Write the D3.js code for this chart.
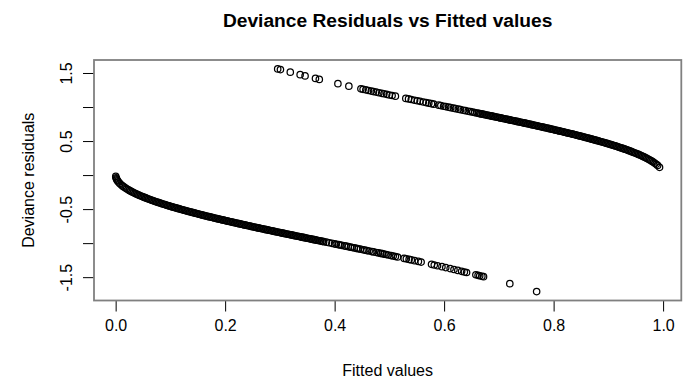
<!DOCTYPE html>
<html>
<head>
<meta charset="utf-8">
<script src="https://d3js.org/d3.v7.min.js"></script>
<style>
body { margin: 0; background: #fff; }
text { font-family: "Liberation Sans", Arial, sans-serif; }
</style>
</head>
<body>
<script>
var width = 689,
    height = 381;

// cases with y = 0 (lower band): fitted value and deviance residual
var fittedZero = [
    0.0002, 0.0008, 0.0015, 0.0025, 0.0035,
    0.0050, 0.0075, 0.0100, 0.0125, 0.0150, 0.0175, 0.0200, 0.0225, 0.0250, 0.0275,
    0.0300, 0.0325, 0.0350, 0.0375, 0.0400, 0.0425, 0.0450, 0.0475, 0.0500, 0.0525,
    0.0550, 0.0575, 0.0600, 0.0625, 0.0650, 0.0675, 0.0700, 0.0725, 0.0750, 0.0775,
    0.0800, 0.0825, 0.0850, 0.0875, 0.0900, 0.0925, 0.0950, 0.0975, 0.1000, 0.1025,
    0.1050, 0.1075, 0.1100, 0.1125, 0.1150, 0.1175, 0.1200, 0.1225, 0.1250, 0.1275,
    0.1300, 0.1325, 0.1350, 0.1375, 0.1400, 0.1425, 0.1450, 0.1475, 0.1500, 0.1525,
    0.1550, 0.1575, 0.1600, 0.1625, 0.1650, 0.1675, 0.1700, 0.1725, 0.1750, 0.1775,
    0.1800, 0.1825, 0.1850, 0.1875, 0.1900, 0.1925, 0.1950, 0.1975, 0.2000, 0.2025,
    0.2050, 0.2075, 0.2100, 0.2125, 0.2150, 0.2175, 0.2200, 0.2225, 0.2250, 0.2275,
    0.2300, 0.2325, 0.2350, 0.2375, 0.2400, 0.2425, 0.2450, 0.2475, 0.2500, 0.2525,
    0.2550, 0.2575, 0.2600, 0.2625, 0.2650, 0.2675, 0.2700, 0.2725, 0.2750, 0.2775,
    0.2800, 0.2825, 0.2850, 0.2875, 0.2900, 0.2925, 0.2950, 0.2975, 0.3000, 0.3025,
    0.3050, 0.3075, 0.3100, 0.3125, 0.3150, 0.3175, 0.3200, 0.3225, 0.3250, 0.3275,
    0.3300, 0.3325, 0.3350, 0.3375, 0.3400, 0.3425, 0.3450, 0.3475, 0.3500, 0.3525,
    0.3550, 0.3575, 0.3600, 0.3625, 0.3650, 0.3675, 0.3700, 0.3725, 0.3750, 0.3775,
    0.380, 0.385, 0.390, 0.395, 0.400,
    0.403, 0.407, 0.410, 0.413, 0.418, 0.421, 0.425, 0.429, 0.432, 0.436,
    0.440, 0.443, 0.447, 0.452, 0.455, 0.459, 0.463, 0.468, 0.471, 0.476,
    0.480, 0.484, 0.487, 0.490, 0.494, 0.498, 0.503, 0.507, 0.511, 0.515,
    0.527, 0.531, 0.536, 0.540, 0.546, 0.553, 0.558,
    0.577, 0.582, 0.588, 0.596, 0.603, 0.611, 0.618, 0.625, 0.632, 0.637, 0.641,
    0.658, 0.662, 0.665, 0.669, 0.672,
    0.720, 0.769
];
var residZero = [
    -0.020, -0.040, -0.055, -0.071, -0.084,
    -0.100, -0.123, -0.142, -0.159, -0.174, -0.188, -0.201, -0.213, -0.225, -0.236,
    -0.247, -0.257, -0.267, -0.277, -0.286, -0.295, -0.304, -0.312, -0.320, -0.328,
    -0.336, -0.344, -0.352, -0.359, -0.367, -0.374, -0.381, -0.388, -0.395, -0.402,
    -0.408, -0.415, -0.422, -0.428, -0.434, -0.441, -0.447, -0.453, -0.459, -0.465,
    -0.471, -0.477, -0.483, -0.489, -0.494, -0.500, -0.506, -0.511, -0.517, -0.522,
    -0.528, -0.533, -0.539, -0.544, -0.549, -0.554, -0.560, -0.565, -0.570, -0.575,
    -0.580, -0.585, -0.591, -0.596, -0.601, -0.606, -0.611, -0.615, -0.620, -0.625,
    -0.630, -0.635, -0.640, -0.644, -0.649, -0.654, -0.659, -0.663, -0.668, -0.673,
    -0.677, -0.682, -0.687, -0.691, -0.696, -0.700, -0.705, -0.709, -0.714, -0.718,
    -0.723, -0.727, -0.732, -0.736, -0.741, -0.745, -0.750, -0.754, -0.759, -0.763,
    -0.767, -0.772, -0.776, -0.780, -0.785, -0.789, -0.793, -0.798, -0.802, -0.806,
    -0.811, -0.815, -0.819, -0.823, -0.828, -0.832, -0.836, -0.840, -0.845, -0.849,
    -0.853, -0.857, -0.862, -0.866, -0.870, -0.874, -0.878, -0.882, -0.887, -0.891,
    -0.895, -0.899, -0.903, -0.907, -0.912, -0.916, -0.920, -0.924, -0.928, -0.932,
    -0.937, -0.941, -0.945, -0.949, -0.953, -0.957, -0.961, -0.965, -0.970, -0.974,
    -0.978, -0.986, -0.994, -1.003, -1.011,
    -1.016, -1.022, -1.027, -1.032, -1.041, -1.045, -1.052, -1.059, -1.064, -1.070,
    -1.077, -1.082, -1.089, -1.097, -1.102, -1.109, -1.115, -1.124, -1.129, -1.137,
    -1.144, -1.150, -1.155, -1.161, -1.167, -1.174, -1.183, -1.189, -1.196, -1.203,
    -1.224, -1.231, -1.239, -1.246, -1.257, -1.269, -1.278,
    -1.312, -1.321, -1.332, -1.346, -1.359, -1.374, -1.387, -1.401, -1.414, -1.424, -1.431,
    -1.465, -1.473, -1.479, -1.487, -1.493,
    -1.596, -1.712
];

// cases with y = 1 (upper band)
var fittedOne = [
    0.296, 0.301, 0.319, 0.337, 0.346, 0.365, 0.372, 0.406, 0.426,
    0.448, 0.452, 0.457, 0.462, 0.467, 0.471, 0.476, 0.481, 0.486, 0.490,
    0.495, 0.500, 0.505, 0.511,
    0.530, 0.535, 0.540, 0.546, 0.551, 0.556, 0.562, 0.567, 0.572, 0.577, 0.581,
    0.590, 0.594, 0.599, 0.603, 0.608, 0.612, 0.617, 0.621, 0.626, 0.630,
    0.635, 0.639, 0.644, 0.648, 0.652, 0.656,
    0.6600, 0.6625, 0.6650, 0.6675, 0.6700, 0.6725, 0.6750, 0.6775, 0.6800, 0.6825,
    0.6850, 0.6875, 0.6900, 0.6925, 0.6950, 0.6975, 0.7000, 0.7025, 0.7050, 0.7075,
    0.7100, 0.7125, 0.7150, 0.7175, 0.7200, 0.7225, 0.7250, 0.7275, 0.7300, 0.7325,
    0.7350, 0.7375, 0.7400, 0.7425, 0.7450, 0.7475, 0.7500, 0.7525, 0.7550, 0.7575,
    0.7600, 0.7625, 0.7650, 0.7675, 0.7700, 0.7725, 0.7750, 0.7775, 0.7800, 0.7825,
    0.7850, 0.7875, 0.7900, 0.7925, 0.7950, 0.7975, 0.8000, 0.8025, 0.8050, 0.8075,
    0.8100, 0.8125, 0.8150, 0.8175, 0.8200, 0.8225, 0.8250, 0.8275, 0.8300, 0.8325,
    0.8350, 0.8375, 0.8400, 0.8425, 0.8450, 0.8475, 0.8500, 0.8525, 0.8550, 0.8575,
    0.8600, 0.8625, 0.8650, 0.8675, 0.8700, 0.8725, 0.8750, 0.8775, 0.8800, 0.8825,
    0.8850, 0.8875, 0.8900, 0.8925, 0.8950, 0.8975, 0.9000, 0.9025, 0.9050, 0.9075,
    0.9100, 0.9125, 0.9150, 0.9175, 0.9200, 0.9225, 0.9250, 0.9275, 0.9300, 0.9325,
    0.9350, 0.9375, 0.9400, 0.9425, 0.9450, 0.9475, 0.9500, 0.9525, 0.9550, 0.9575,
    0.9600, 0.9625, 0.9650, 0.9675, 0.9700, 0.9725, 0.9750, 0.9775, 0.9800, 0.9825,
    0.9850, 0.9875, 0.9900, 0.9935
];
var residOne = [
    1.560, 1.550, 1.512, 1.475, 1.457, 1.420, 1.406, 1.343, 1.306,
    1.267, 1.260, 1.252, 1.243, 1.234, 1.227, 1.219, 1.210, 1.201, 1.195,
    1.186, 1.177, 1.169, 1.159,
    1.127, 1.119, 1.110, 1.100, 1.092, 1.084, 1.074, 1.065, 1.057, 1.049, 1.042,
    1.027, 1.021, 1.012, 1.006, 0.998, 0.991, 0.983, 0.976, 0.968, 0.961,
    0.953, 0.946, 0.938, 0.932, 0.925, 0.918,
    0.912, 0.907, 0.903, 0.899, 0.895, 0.891, 0.887, 0.882, 0.878, 0.874,
    0.870, 0.866, 0.862, 0.857, 0.853, 0.849, 0.845, 0.840, 0.836, 0.832,
    0.828, 0.823, 0.819, 0.815, 0.811, 0.806, 0.802, 0.798, 0.793, 0.789,
    0.785, 0.780, 0.776, 0.772, 0.767, 0.763, 0.759, 0.754, 0.750, 0.745,
    0.741, 0.736, 0.732, 0.727, 0.723, 0.718, 0.714, 0.709, 0.705, 0.700,
    0.696, 0.691, 0.687, 0.682, 0.677, 0.673, 0.668, 0.663, 0.659, 0.654,
    0.649, 0.644, 0.640, 0.635, 0.630, 0.625, 0.620, 0.615, 0.611, 0.606,
    0.601, 0.596, 0.591, 0.585, 0.580, 0.575, 0.570, 0.565, 0.560, 0.554,
    0.549, 0.544, 0.539, 0.533, 0.528, 0.522, 0.517, 0.511, 0.506, 0.500,
    0.494, 0.489, 0.483, 0.477, 0.471, 0.465, 0.459, 0.453, 0.447, 0.441,
    0.434, 0.428, 0.422, 0.415, 0.408, 0.402, 0.395, 0.388, 0.381, 0.374,
    0.367, 0.359, 0.352, 0.344, 0.336, 0.328, 0.320, 0.312, 0.304, 0.295,
    0.286, 0.277, 0.267, 0.257, 0.247, 0.236, 0.225, 0.213, 0.201, 0.188,
    0.174, 0.159, 0.142, 0.114
];

var xTicks = [0, 0.2, 0.4, 0.6, 0.8, 1.0];
var yTicks = [-1.5, -1, -0.5, 0, 0.5, 1, 1.5];
var yLabels = [-1.5, -0.5, 0.5, 1.5];

var box = {left: 94, right: 681.3, top: 60, bottom: 300.5};

var svg = d3.select("body")
    .append("svg")
    .attr("width", width)
    .attr("height", height);

var points = fittedZero.map(function(f, i) { return {x: f, y: residZero[i]}; })
    .concat(fittedOne.map(function(f, i) { return {x: f, y: residOne[i]}; }));

// R style 4% padding around the data range
function padded(ext) {
    var d = (ext[1] - ext[0]) * 0.04;
    return [ext[0] - d, ext[1] + d];
}

var x = d3.scaleLinear()
    .domain(padded(d3.extent(points, function(d) { return d.x; })))
    .range([box.left, box.right]);

var y = d3.scaleLinear()
    .domain(padded(d3.extent(points, function(d) { return d.y; })))
    .range([box.bottom, box.top]);

svg.append("g")
    .selectAll("circle")
    .data(points)
    .enter().append("circle")
      .attr("cx", function(d) { return x(d.x); })
      .attr("cy", function(d) { return y(d.y); })
      .attr("r", 3.2)
      .attr("fill", "none")
      .attr("stroke", "#000")
      .attr("stroke-width", 1.25);

var xAxis = svg.append("g")
    .attr("transform", "translate(0," + box.bottom + ")")
    .call(d3.axisBottom(x)
        .tickValues(xTicks)
        .tickSize(11)
        .tickPadding(8)
        .tickFormat(function(d) { return d.toFixed(1); }));
xAxis.select(".domain").remove();
xAxis.attr("font-size", 16);
xAxis.selectAll(".tick text").attr("fill", "#000");

var yAxis = svg.append("g")
    .attr("transform", "translate(" + box.left + ",0)")
    .call(d3.axisLeft(y)
        .tickValues(yTicks)
        .tickSize(11)
        .tickFormat(function(d) { return yLabels.indexOf(d) >= 0 ? d.toFixed(1) : ""; }));
yAxis.select(".domain").remove();
yAxis.attr("font-size", 16);
yAxis.selectAll(".tick text")
    .attr("transform", "rotate(-90)")
    .attr("x", 0)
    .attr("y", -22)
    .attr("dy", null)
    .attr("fill", "#000")
    .attr("text-anchor", "middle");

svg.append("rect")
    .attr("x", box.left)
    .attr("y", box.top)
    .attr("width", box.right - box.left)
    .attr("height", box.bottom - box.top)
    .attr("fill", "none")
    .attr("stroke", "#808080")
    .attr("stroke-width", 1.8);

svg.append("text")
    .attr("x", (box.left + box.right) / 2)
    .attr("y", 26.5)
    .attr("text-anchor", "middle")
    .attr("font-size", 19.2)
    .attr("font-weight", "bold")
    .text("Deviance Residuals vs Fitted values");

svg.append("text")
    .attr("x", (box.left + box.right) / 2)
    .attr("y", 376)
    .attr("text-anchor", "middle")
    .attr("font-size", 16)
    .text("Fitted values");

svg.append("text")
    .attr("transform", "translate(34," + (box.top + box.bottom) / 2 + ") rotate(-90)")
    .attr("text-anchor", "middle")
    .attr("font-size", 16)
    .text("Deviance residuals");
</script>
</body>
</html>
